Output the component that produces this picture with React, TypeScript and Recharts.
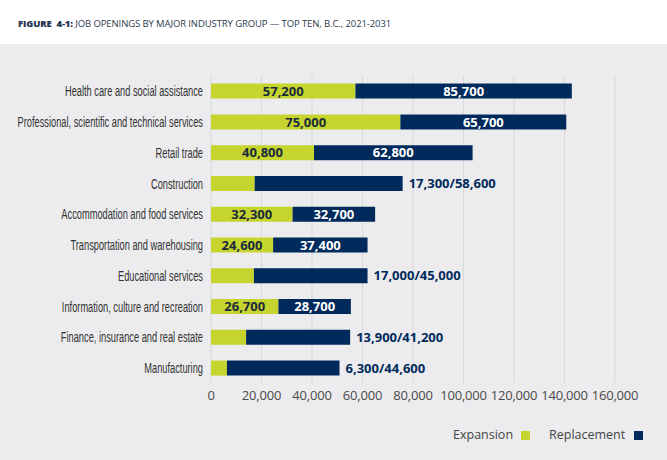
import React from 'react';
import { BarChart, Bar, XAxis, YAxis, CartesianGrid, LabelList } from 'recharts';

const categories = [
  'Health care and social assistance',
  'Professional, scientific and technical services',
  'Retail trade',
  'Construction',
  'Accommodation and food services',
  'Transportation and warehousing',
  'Educational services',
  'Information, culture and recreation',
  'Finance, insurance and real estate',
  'Manufacturing',
];
const expansion = [57200, 75000, 40800, 17300, 32300, 24600, 17000, 26700, 13900, 6300];
const replacement = [85700, 65700, 62800, 58600, 32700, 37400, 45000, 28700, 41200, 44600];
const xTicks = [0, 20000, 40000, 60000, 80000, 100000, 120000, 140000, 160000];
const seriesNames = ['Expansion', 'Replacement'];

const data = categories.map((name, i) => ({ name, expansion: expansion[i], replacement: replacement[i] }));

const GREEN = '#C5D52E';
const NAVY = '#002A5C';
const BG = '#ECECEE';
const INSIDE_MIN = 20000;
const fmt = (v: number) => v.toLocaleString('en-US');

const CategoryTick = (props: any) => {
  const { x, y, payload } = props;
  return (
    <g transform={`translate(${x},${y})`}>
      <text
        transform="scale(0.64,1)"
        textAnchor="end"
        dy="0.36em"
        fontFamily="'Liberation Sans', Arial, sans-serif"
        fontSize={14.5}
        fill="#333"
      >
        {payload.value}
      </text>
    </g>
  );
};

const labelFont = "'Open Sans', sans-serif";

const ExpLabel = (props: any) => {
  const { x, y, width, height, index } = props;
  if (expansion[index] < INSIDE_MIN) return null;
  return (
    <text x={x + width / 2} y={y + height / 2} dy="0.36em" textAnchor="middle" fontFamily={labelFont} fontWeight={700} fontSize={13} fill="#1B2A3A">
      {fmt(expansion[index])}
    </text>
  );
};

const RepLabel = (props: any) => {
  const { x, y, width, height, index } = props;
  if (expansion[index] >= INSIDE_MIN) {
    return (
      <text x={x + width / 2} y={y + height / 2} dy="0.36em" textAnchor="middle" fontFamily={labelFont} fontWeight={700} fontSize={13} fill="#fff">
        {fmt(replacement[index])}
      </text>
    );
  }
  return (
    <text x={x + width + 6} y={y + height / 2} dy="0.36em" textAnchor="start" fontFamily={labelFont} fontWeight={700} fontSize={13} fill={NAVY}>
      {`${fmt(expansion[index])}/${fmt(replacement[index])}`}
    </text>
  );
};

export default function App() {
  return (
    <div style={{ position: 'absolute', left: 0, top: 0, width: 667, height: 460, background: '#fff', overflow: 'hidden' }}>
      <div style={{ position: 'absolute', left: 0, top: 44, width: 667, height: 416, background: BG }} />
      <div
        style={{
          position: 'absolute',
          left: 18,
          top: 18,
          fontFamily: labelFont,
          fontSize: 9.5,
          lineHeight: '12px',
          color: '#2E3A4A',
          whiteSpace: 'nowrap',
          letterSpacing: -0.1,
        }}
      >
        <span style={{ fontWeight: 800, color: '#1F3350' }}>FIGURE&nbsp; 4-1:</span> JOB OPENINGS BY MAJOR INDUSTRY GROUP — TOP TEN, B.C., 2021-2031
      </div>
      <div style={{ position: 'absolute', left: 0, top: 0 }}>
        <BarChart
          width={667}
          height={460}
          data={data}
          layout="vertical"
          margin={{ top: 75.6, right: 52, bottom: 46.6, left: 0 }}
          barSize={15}
        >
          <CartesianGrid horizontal={false} stroke="#D8D8DC" />
          <XAxis
            type="number"
            domain={[0, 160000]}
            ticks={xTicks}
            tickFormatter={fmt}
            axisLine={false}
            tickLine={false}
            tickSize={0}
            tickMargin={7}
            height={30}
            interval={0}
            tick={{ fill: '#4A4A4A', fontSize: 13, fontFamily: labelFont, letterSpacing: -0.2 }}
          />
          <YAxis
            type="category"
            dataKey="name"
            width={211}
            axisLine={false}
            tickLine={false}
            tickSize={0}
            tickMargin={8}
            interval={0}
            tick={<CategoryTick />}
          />
          <Bar dataKey="expansion" name={seriesNames[0]} stackId="a" fill={GREEN} isAnimationActive={false}>
            <LabelList dataKey="expansion" content={<ExpLabel />} />
          </Bar>
          <Bar dataKey="replacement" name={seriesNames[1]} stackId="a" fill={NAVY} isAnimationActive={false}>
            <LabelList dataKey="replacement" content={<RepLabel />} />
          </Bar>
        </BarChart>
      </div>
      <div style={{ position: 'absolute', left: 0, top: 425, width: 667, height: 20, fontFamily: labelFont, fontSize: 12.5, color: '#444' }}>
        <span style={{ position: 'absolute', left: 453, top: 0, lineHeight: '20px' }}>{seriesNames[0]}</span>
        <span style={{ position: 'absolute', left: 521, top: 6, width: 9, height: 9, background: GREEN }} />
        <span style={{ position: 'absolute', left: 549, top: 0, lineHeight: '20px' }}>{seriesNames[1]}</span>
        <span style={{ position: 'absolute', left: 634, top: 6, width: 9, height: 9, background: NAVY }} />
      </div>
    </div>
  );
}
